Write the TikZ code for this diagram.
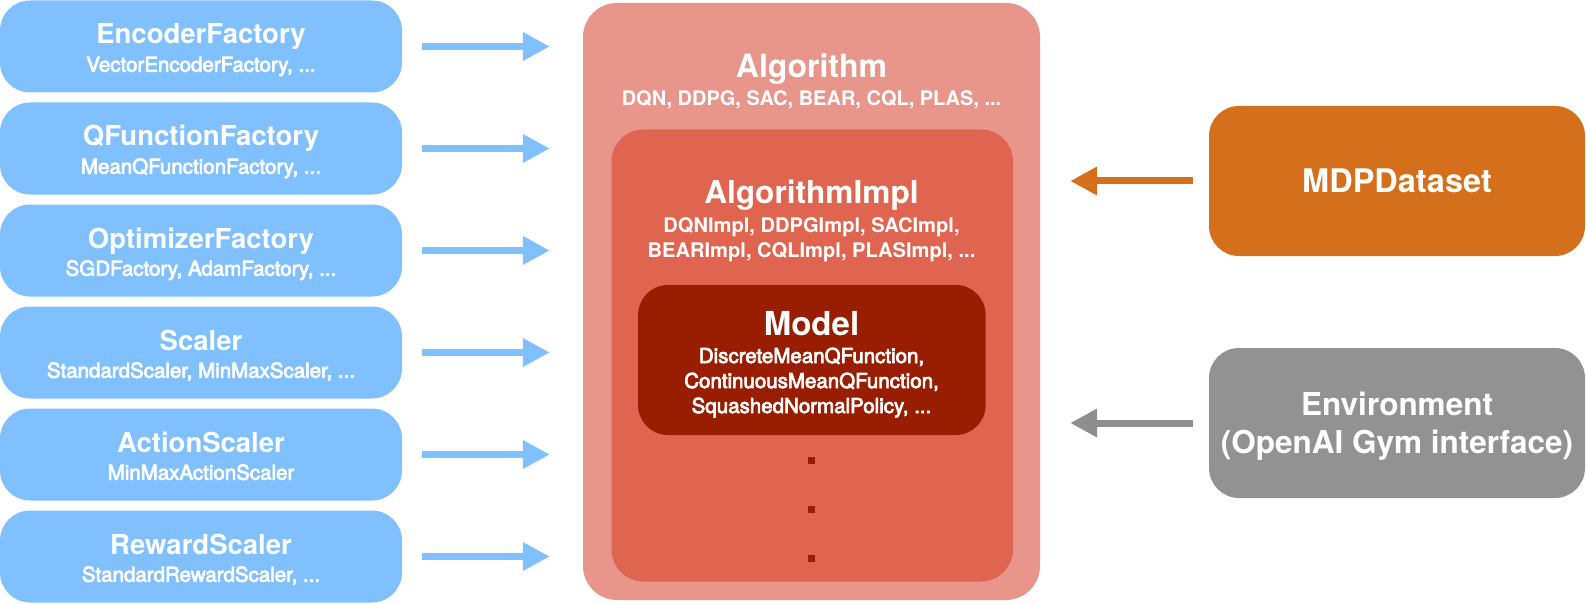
\documentclass[tikz,border=0pt]{standalone}
\usepackage{fontspec}
\setmainfont{TeX Gyre Heros}
\newfontfamily\medfont[FakeBold=3.5]{TeX Gyre Heros}
\usetikzlibrary{arrows.meta}
\definecolor{cblue}{HTML}{80C0FF}
\definecolor{calg}{HTML}{E8958B}
\definecolor{cimpl}{HTML}{E06550}
\definecolor{cmodel}{HTML}{991D00}
\definecolor{cmdp}{HTML}{D4701C}
\definecolor{cenv}{HTML}{929292}
\definecolor{carrgray}{HTML}{8E8E8E}
\tikzset{
  lbox/.style={fill=cblue, rounded corners=30pt, minimum width=402pt, minimum height=92pt, inner sep=0pt},
  rbox/.style={rounded corners=30pt, minimum width=376pt, minimum height=150pt, inner sep=0pt},
  txt/.style={text=white, anchor=base, inner sep=0pt},
  ttl/.style={txt, font=\fontsize{27.5}{30}\selectfont\bfseries},
  sub/.style={txt, font=\fontsize{20.5}{24}\selectfont\medfont},
  bsub/.style={txt, font=\fontsize{20.1}{24}\selectfont\bfseries},
  msub/.style={txt, font=\fontsize{20.5}{24}\selectfont\medfont},
  bigttl/.style={txt, font=\fontsize{32.5}{36}\selectfont\bfseries},
  arr/.style={line width=7pt, -{Triangle[length=27pt,width=27pt]}},
  barrow/.style={arr, draw=cblue, shorten <=20pt, shorten >=33pt},
  rarrow/.style={arr, shorten <=16pt, shorten >=30pt},
  dotsq/.style={fill=cmodel, minimum size=7pt, inner sep=0pt},
}
\begin{document}
\begin{tikzpicture}[x=1pt,y=-1pt]
\useasboundingbox (0,0) rectangle (1586,604);
% central boxes
\node[fill=calg, rounded corners=34pt, minimum width=457pt, minimum height=597pt, inner sep=0pt] (alg) at (811.5,301.5) {};
\node[fill=cimpl, rounded corners=32pt, minimum width=401.5pt, minimum height=452pt, inner sep=0pt] (impl) at (812.25,355.5) {};
\node[fill=cmodel, rounded corners=30pt, minimum width=347.7pt, minimum height=150pt, inner sep=0pt] (model) at (811.85,360) {};
\node[bigttl, font=\fontsize{32}{36}\selectfont\bfseries] (algt) at (811.5,78) {Algorithm};
\node[bsub, font=\fontsize{20}{24}\selectfont\bfseries] (algs) at (811.5,106) {DQN, DDPG, SAC, BEAR, CQL, PLAS, ...};
\node[bigttl, font=\fontsize{31.6}{36}\selectfont\bfseries] (implt) at (811.5,203) {AlgorithmImpl};
\node[bsub] (impls1) at (811.5,232) {DQNImpl, DDPGImpl, SACImpl,};
\node[bsub] (impls2) at (811.5,257) {BEARImpl, CQLImpl, PLASImpl, ...};
\node[bigttl, font=\fontsize{33}{36}\selectfont\bfseries] (modelt) at (811.5,335) {Model};
\node[msub] (models1) at (811.5,363) {DiscreteMeanQFunction,};
\node[msub] (models2) at (811.5,388) {ContinuousMeanQFunction,};
\node[msub] (models3) at (811.5,413) {SquashedNormalPolicy, ...};
\node[dotsq] (d1) at (811.5,460.7) {};
\node[dotsq] (d2) at (811.5,509.7) {};
\node[dotsq] (d3) at (811.5,558.7) {};
% left boxes
\node[lbox] (enc) at (201,46.5) {};
\node[lbox] (qf) at (201,148.5) {};
\node[lbox] (opt) at (201,250.5) {};
\node[lbox] (scl) at (201,352.5) {};
\node[lbox] (ascl) at (201,454.5) {};
\node[lbox] (rscl) at (201,556.5) {};
\node[ttl] (enct) at (201,44) {EncoderFactory};
\node[sub] (encs) at (201,71.7) {VectorEncoderFactory, ...};
\node[ttl] (qft) at (201,146) {QFunctionFactory};
\node[sub] (qfs) at (201,173.7) {MeanQFunctionFactory, ...};
\node[ttl] (optt) at (201,248) {OptimizerFactory};
\node[sub] (opts) at (201,275.7) {SGDFactory, AdamFactory, ...};
\node[ttl] (sclt) at (201,350) {Scaler};
\node[sub] (scls) at (201,377.7) {StandardScaler, MinMaxScaler, ...};
\node[ttl] (asclt) at (201,452) {ActionScaler};
\node[sub] (ascls) at (201,479.7) {MinMaxActionScaler};
\node[ttl] (rsclt) at (201,554) {RewardScaler};
\node[sub] (rscls) at (201,581.7) {StandardRewardScaler, ...};
% right boxes
\node[rbox, fill=cmdp] (mdp) at (1397,181) {};
\node[bigttl] (mdpt) at (1397,192.5) {MDPDataset};
\node[rbox, fill=cenv] (env) at (1397,423) {};
\node[bigttl, font=\fontsize{31.5}{36}\selectfont\bfseries] (envt1) at (1397,415) {Environment};
\node[bigttl, font=\fontsize{31.5}{36}\selectfont\bfseries] (envt2) at (1397,453.5) {(OpenAI Gym interface)};
% arrows
\draw[barrow] (enc.east) -- (enc.east -| alg.west);
\draw[barrow] (qf.east) -- (qf.east -| alg.west);
\draw[barrow] (opt.east) -- (opt.east -| alg.west);
\draw[barrow] (scl.east) -- (scl.east -| alg.west);
\draw[barrow] (ascl.east) -- (ascl.east -| alg.west);
\draw[barrow] (rscl.east) -- (rscl.east -| alg.west);
\draw[rarrow, draw=cmdp] (mdp.west) -- (mdp.west -| alg.east);
\draw[rarrow, draw=carrgray] (env.west) -- (env.west -| alg.east);
\end{tikzpicture}
\end{document}
